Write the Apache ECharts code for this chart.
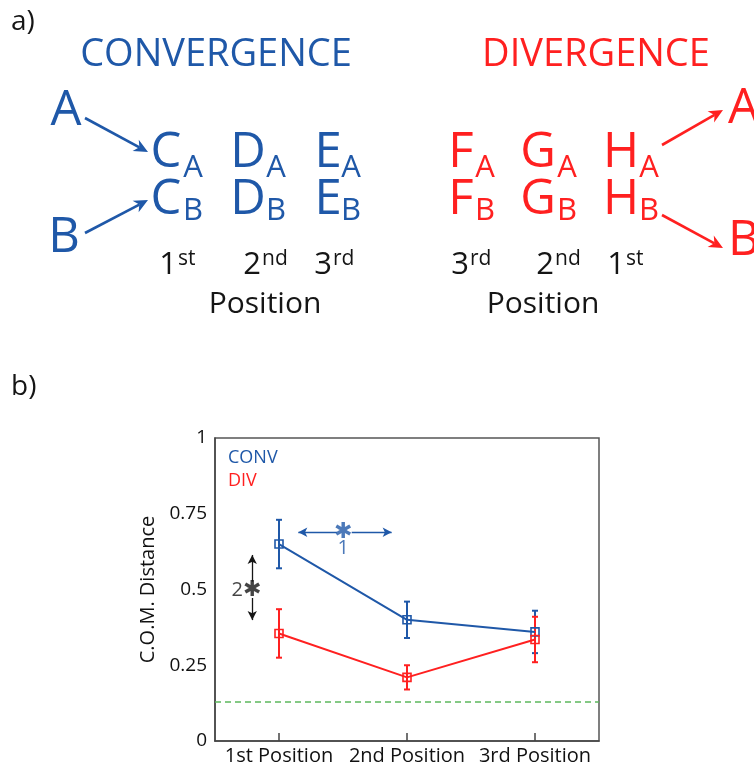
<!DOCTYPE html>
<html>
<head>
<meta charset="utf-8">
<script src="https://cdn.jsdelivr.net/npm/echarts@6/dist/echarts.min.js"></script>
<style>
  html, body { margin: 0; padding: 0; background: #fff; }
  #chart { width: 754px; height: 767px; }
</style>
</head>
<body>
<div id="chart"></div>
<script>
// ---- data ----
const positions = ['1st Position', '2nd Position', '3rd Position'];
const convMean = [0.65, 0.40, 0.36];
const convErr  = [0.08, 0.06, 0.07];
const divMean  = [0.355, 0.21, 0.335];
const divErr   = [0.08, 0.04, 0.075];
const chanceLevel = 0.125;
const yMin = 0, yMax = 1, yStep = 0.25;

// significance markers, x on a continuous 0.5–3.5 position scale
const sig1Left  = [[1.451, 0.689], [1.151, 0.689]];
const sig1Right = [[1.568, 0.689], [1.880, 0.689]];
const sig2Up    = [[0.791, 0.526], [0.791, 0.614]];
const sig2Down  = [[0.791, 0.472], [0.791, 0.399]];
const sigLabels = [
  [1.502, 0.689, '\u2731', 'blue'],
  [1.502, 0.636, '1', 'blue'],
  [0.791, 0.498, '\u2731', 'ink'],
  [0.674, 0.498, '2', 'ink']
];

const blue = '#1f58a8';
const red  = '#ff2020';
const ink  = '#151515';
const FONT = 'Open Sans';

// ---- schematic helpers (panel a) ----
function txt(text, x, y, size, color, align) {
  return {
    type: 'text', x: x, y: y,
    style: {
      text: text, fontSize: size, fontFamily: FONT, fill: color,
      textAlign: align || 'center', textVerticalAlign: 'middle',
      align: align || 'center', verticalAlign: 'middle'
    }
  };
}
function arrow(x1, y1, x2, y2, color) {
  const a = Math.atan2(y2 - y1, x2 - x1);
  const L = 14, W = 6.5;
  const c = Math.cos(a), s = Math.sin(a);
  const bx = x2 - L * c, by = y2 - L * s;
  const nx = x2 - L * 0.7 * c, ny = y2 - L * 0.7 * s;
  return [
    { type: 'line', shape: { x1: x1, y1: y1, x2: nx, y2: ny },
      style: { stroke: color, lineWidth: 2.6 } },
    { type: 'polygon',
      shape: { points: [[x2, y2], [bx - s * W, by + c * W], [nx, ny], [bx + s * W, by - c * W]] },
      style: { fill: color } }
  ];
}
// letter with subscript: main centre x, subscript centre x, row
function subLetter(main, sub, mx, sx, row, color) {
  const my = row === 0 ? 153 : 200;
  const sy = row === 0 ? 168 : 211;
  return [txt(main, mx, my, 49, color), txt(sub, sx, sy, 31, color)];
}
function ordinal(num, suf, xb) {
  return [txt(num, xb, 265, 31, ink, 'right'), txt(suf, xb + 1, 259, 21, ink, 'left')];
}

const schematic = [].concat(
  [txt('a)', 11, 22, 28, ink, 'left'), txt('b)', 11, 387, 28, ink, 'left')],
  // convergence
  [txt('CONVERGENCE', 216, 55, 38, blue)],
  [txt('A', 66, 111, 49, blue), txt('B', 64, 238, 49, blue)],
  arrow(85, 118, 148, 152, blue),
  arrow(85, 233, 148, 200, blue),
  subLetter('C', 'A', 166, 193, 0, blue), subLetter('C', 'B', 166, 193, 1, blue),
  subLetter('D', 'A', 248, 276, 0, blue), subLetter('D', 'B', 248, 276, 1, blue),
  subLetter('E', 'A', 328, 351, 0, blue), subLetter('E', 'B', 328, 351, 1, blue),
  ordinal('1', 'st', 177), ordinal('2', 'nd', 261), ordinal('3', 'rd', 332),
  [txt('Position', 265, 304, 30, ink)],
  // divergence
  [txt('DIVERGENCE', 596, 55, 38, red)],
  subLetter('F', 'A', 461, 485, 0, red), subLetter('F', 'B', 461, 485, 1, red),
  subLetter('G', 'A', 538, 567, 0, red), subLetter('G', 'B', 538, 567, 1, red),
  subLetter('H', 'A', 621, 649, 0, red), subLetter('H', 'B', 621, 649, 1, red),
  arrow(662, 145, 723, 110, red),
  arrow(662, 215, 723, 248, red),
  [txt('A', 728, 109, 49, red, 'left'), txt('B', 728, 241, 49, red, 'left')],
  ordinal('3', 'rd', 469), ordinal('2', 'nd', 554), ordinal('1', 'st', 625),
  [txt('Position', 543, 304, 30, ink)]
);

// ---- chart helpers (panel b) ----
function errorBars(means, errs, color) {
  return {
    type: 'custom',
    xAxisIndex: 0, yAxisIndex: 0,
    data: means.map((m, i) => [i, m - errs[i], m + errs[i]]),
    renderItem: function (params, api) {
      const lo = api.coord([api.value(0), api.value(1)]);
      const hi = api.coord([api.value(0), api.value(2)]);
      const w = 3;
      const st = { stroke: color, lineWidth: 2 };
      return {
        type: 'group',
        children: [
          { type: 'line', shape: { x1: lo[0], y1: lo[1], x2: hi[0], y2: hi[1] }, style: st },
          { type: 'line', shape: { x1: lo[0] - w, y1: lo[1], x2: lo[0] + w, y2: lo[1] }, style: st },
          { type: 'line', shape: { x1: hi[0] - w, y1: hi[1], x2: hi[0] + w, y2: hi[1] }, style: st }
        ]
      };
    }
  };
}
function meanLine(name, means, color) {
  return {
    type: 'line', name: name, data: means,
    xAxisIndex: 0, yAxisIndex: 0,
    symbol: 'rect', symbolSize: 8,
    lineStyle: { color: color, width: 2 },
    itemStyle: { color: 'rgba(255,255,255,0)', borderColor: color, borderWidth: 1.6 },
    emphasis: { disabled: true },
    animation: false
  };
}
function arrowSegment(seg) {
  return [{ coord: seg[0] }, { coord: seg[1] }];
}

const chart = echarts.init(document.getElementById('chart'), null, { renderer: 'canvas' });
chart.setOption({
  animation: false,
  backgroundColor: '#fff',
  textStyle: { fontFamily: FONT },
  grid: {
    left: 215, right: 155, top: 438, bottom: 26,
    show: true, borderColor: '#555', borderWidth: 1.5
  },
  legend: {
    orient: 'vertical', left: 218, top: 444,
    icon: 'none', itemWidth: 0, itemHeight: 14, itemGap: 5,
    selectedMode: false,
    data: [
      { name: 'CONV', textStyle: { color: blue } },
      { name: 'DIV', textStyle: { color: red } }
    ],
    textStyle: { fontSize: 18, fontFamily: FONT }
  },
  xAxis: [
    {
      type: 'category', data: positions, boundaryGap: true,
      axisLine: { lineStyle: { color: '#444', width: 1.5 } },
      axisTick: { show: true, inside: true, alignWithLabel: true, length: 8,
                  lineStyle: { color: '#444', width: 1.5 } },
      axisLabel: { color: '#111', fontSize: 20, margin: 5, interval: 0, fontFamily: FONT },
      splitLine: { show: false }
    },
    { type: 'value', min: 0.5, max: 3.5, show: false }
  ],
  yAxis: {
    type: 'value', min: yMin, max: yMax, interval: yStep,
    name: 'C.O.M. Distance', nameLocation: 'middle', nameGap: 52,
    nameTextStyle: { color: '#111', fontSize: 20, fontFamily: FONT },
    axisLine: { show: true, lineStyle: { color: '#444', width: 1.5 } },
    axisTick: { show: false },
    axisLabel: { color: '#111', fontSize: 19, margin: 8, fontFamily: FONT },
    splitLine: { show: false }
  },
  graphic: schematic,
  series: [
    // chance level
    {
      type: 'line', data: [], xAxisIndex: 0, yAxisIndex: 0,
      markLine: {
        silent: true, symbol: 'none', label: { show: false },
        lineStyle: { color: '#5cb85c', type: [6, 4], width: 1.5 },
        data: [{ yAxis: chanceLevel }]
      }
    },
    errorBars(convMean, convErr, blue),
    meanLine('CONV', convMean, blue),
    errorBars(divMean, divErr, red),
    meanLine('DIV', divMean, red),
    // significance arrows and labels
    {
      type: 'scatter', xAxisIndex: 1, yAxisIndex: 0,
      symbolSize: 0, silent: true,
      data: sigLabels.map(d => ({
        value: [d[0], d[1]],
        label: {
          show: true, position: 'inside', formatter: d[2],
          color: d[3] === 'blue' ? blue : ink,
          fontSize: d[2] === '\u2731' ? 22 : 20,
          fontFamily: d[2] === '\u2731' ? 'DejaVu Sans' : FONT
        }
      })),
      markLine: {
        silent: true, symbol: ['none', 'arrow'], symbolSize: [7, 9],
        label: { show: false },
        lineStyle: { width: 1.3, type: 'solid' },
        data: [sig1Left, sig1Right, sig2Up, sig2Down].map((s, i) => {
          const seg = arrowSegment(s);
          const c = i < 2 ? blue : ink;
          seg[0].lineStyle = { color: c, width: 1.3 };
          seg[0].itemStyle = { color: c };
          return seg;
        })
      }
    }
  ]
});
</script>
</body>
</html>
